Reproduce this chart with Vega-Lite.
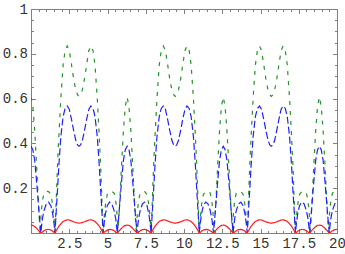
{
  "$schema": "https://vega.github.io/schema/vega-lite/v6.json",
  "width": 306,
  "height": 224,
  "autosize": {"type": "none"},
  "padding": {"left": 31, "top": 9, "right": 8, "bottom": 21},
  "background": "white",
  "config": {
    "view": {"stroke": "#808080", "strokeWidth": 1},
    "axis": {
      "labelFont": "Liberation Mono",
      "labelFontSize": 14,
      "labelColor": "#333333",
      "domainColor": "#808080",
      "tickColor": "#808080",
      "grid": false,
      "title": null,
      "labelOverlap": false,
      "labelBound": false,
      "labelFlush": false
    }
  },
  "data": {
    "values": [
      {"x":0,"g":0.607,"b":0.387,"r":0.035},
      {"x":0.12,"g":0.565,"b":0.372,"r":0.034},
      {"x":0.24,"g":0.46,"b":0.325,"r":0.029},
      {"x":0.36,"g":0.31,"b":0.235,"r":0.021},
      {"x":0.46,"g":0.17,"b":0.15,"r":0.014},
      {"x":0.54,"g":0.07,"b":0.08,"r":0.008},
      {"x":0.6,"g":0,"b":0.035,"r":0.004},
      {"x":0.64,"g":0.06,"b":0,"r":0.002},
      {"x":0.68,"g":0.1,"b":0.025,"r":0},
      {"x":0.75,"g":0.145,"b":0.065,"r":0.005},
      {"x":0.85,"g":0.178,"b":0.1,"r":0.01},
      {"x":1.0,"g":0.186,"b":0.13,"r":0.015},
      {"x":1.15,"g":0.185,"b":0.138,"r":0.016},
      {"x":1.3,"g":0.172,"b":0.122,"r":0.013},
      {"x":1.42,"g":0.125,"b":0.085,"r":0.008},
      {"x":1.5,"g":0.07,"b":0.045,"r":0.003},
      {"x":1.57,"g":0,"b":0,"r":0},
      {"x":1.65,"g":0.15,"b":0.1,"r":0.01},
      {"x":1.73,"g":0.3,"b":0.19,"r":0.02},
      {"x":1.82,"g":0.43,"b":0.3,"r":0.03},
      {"x":1.95,"g":0.6,"b":0.43,"r":0.041},
      {"x":2.1,"g":0.75,"b":0.52,"r":0.051},
      {"x":2.23,"g":0.815,"b":0.556,"r":0.056},
      {"x":2.37,"g":0.835,"b":0.567,"r":0.059},
      {"x":2.5,"g":0.815,"b":0.553,"r":0.058},
      {"x":2.64,"g":0.755,"b":0.51,"r":0.054},
      {"x":2.78,"g":0.69,"b":0.46,"r":0.05},
      {"x":2.92,"g":0.64,"b":0.415,"r":0.047},
      {"x":3.04,"g":0.617,"b":0.393,"r":0.045},
      {"x":3.142,"g":0.61,"b":0.387,"r":0.044},
      {"x":3.243,"g":0.617,"b":0.393,"r":0.045},
      {"x":3.363,"g":0.64,"b":0.415,"r":0.047},
      {"x":3.503,"g":0.69,"b":0.46,"r":0.05},
      {"x":3.643,"g":0.755,"b":0.51,"r":0.054},
      {"x":3.783,"g":0.815,"b":0.553,"r":0.058},
      {"x":3.913,"g":0.835,"b":0.567,"r":0.059},
      {"x":4.053,"g":0.815,"b":0.556,"r":0.056},
      {"x":4.183,"g":0.75,"b":0.52,"r":0.051},
      {"x":4.333,"g":0.6,"b":0.43,"r":0.041},
      {"x":4.463,"g":0.43,"b":0.3,"r":0.03},
      {"x":4.553,"g":0.3,"b":0.19,"r":0.02},
      {"x":4.633,"g":0.15,"b":0.1,"r":0.01},
      {"x":4.713,"g":0,"b":0,"r":0},
      {"x":4.783,"g":0.07,"b":0.045,"r":0.003},
      {"x":4.863,"g":0.125,"b":0.085,"r":0.008},
      {"x":4.983,"g":0.172,"b":0.122,"r":0.013},
      {"x":5.133,"g":0.185,"b":0.138,"r":0.016},
      {"x":5.283,"g":0.186,"b":0.13,"r":0.015},
      {"x":5.433,"g":0.178,"b":0.1,"r":0.01},
      {"x":5.533,"g":0.145,"b":0.065,"r":0.005},
      {"x":5.603,"g":0.1,"b":0.025,"r":0},
      {"x":5.643,"g":0.06,"b":0,"r":0.002},
      {"x":5.683,"g":0,"b":0.035,"r":0.004},
      {"x":5.743,"g":0.07,"b":0.08,"r":0.008},
      {"x":5.823,"g":0.17,"b":0.15,"r":0.014},
      {"x":5.923,"g":0.31,"b":0.235,"r":0.021},
      {"x":6.043,"g":0.46,"b":0.325,"r":0.029},
      {"x":6.163,"g":0.565,"b":0.372,"r":0.034},
      {"x":6.283,"g":0.607,"b":0.387,"r":0.035},
      {"x":6.403,"g":0.565,"b":0.372,"r":0.034},
      {"x":6.523,"g":0.46,"b":0.325,"r":0.029},
      {"x":6.643,"g":0.31,"b":0.235,"r":0.021},
      {"x":6.743,"g":0.17,"b":0.15,"r":0.014},
      {"x":6.823,"g":0.07,"b":0.08,"r":0.008},
      {"x":6.883,"g":0,"b":0.035,"r":0.004},
      {"x":6.923,"g":0.06,"b":0,"r":0.002},
      {"x":6.963,"g":0.1,"b":0.025,"r":0},
      {"x":7.033,"g":0.145,"b":0.065,"r":0.005},
      {"x":7.133,"g":0.178,"b":0.1,"r":0.01},
      {"x":7.283,"g":0.186,"b":0.13,"r":0.015},
      {"x":7.433,"g":0.185,"b":0.138,"r":0.016},
      {"x":7.583,"g":0.172,"b":0.122,"r":0.013},
      {"x":7.703,"g":0.125,"b":0.085,"r":0.008},
      {"x":7.783,"g":0.07,"b":0.045,"r":0.003},
      {"x":7.853,"g":0,"b":0,"r":0},
      {"x":7.933,"g":0.15,"b":0.1,"r":0.01},
      {"x":8.013,"g":0.3,"b":0.19,"r":0.02},
      {"x":8.103,"g":0.43,"b":0.3,"r":0.03},
      {"x":8.233,"g":0.6,"b":0.43,"r":0.041},
      {"x":8.383,"g":0.75,"b":0.52,"r":0.051},
      {"x":8.513,"g":0.815,"b":0.556,"r":0.056},
      {"x":8.653,"g":0.835,"b":0.567,"r":0.059},
      {"x":8.783,"g":0.815,"b":0.553,"r":0.058},
      {"x":8.923,"g":0.755,"b":0.51,"r":0.054},
      {"x":9.063,"g":0.69,"b":0.46,"r":0.05},
      {"x":9.203,"g":0.64,"b":0.415,"r":0.047},
      {"x":9.323,"g":0.617,"b":0.393,"r":0.045},
      {"x":9.425,"g":0.61,"b":0.387,"r":0.044},
      {"x":9.526,"g":0.617,"b":0.393,"r":0.045},
      {"x":9.646,"g":0.64,"b":0.415,"r":0.047},
      {"x":9.786,"g":0.69,"b":0.46,"r":0.05},
      {"x":9.926,"g":0.755,"b":0.51,"r":0.054},
      {"x":10.066,"g":0.815,"b":0.553,"r":0.058},
      {"x":10.196,"g":0.835,"b":0.567,"r":0.059},
      {"x":10.336,"g":0.815,"b":0.556,"r":0.056},
      {"x":10.466,"g":0.75,"b":0.52,"r":0.051},
      {"x":10.616,"g":0.6,"b":0.43,"r":0.041},
      {"x":10.746,"g":0.43,"b":0.3,"r":0.03},
      {"x":10.836,"g":0.3,"b":0.19,"r":0.02},
      {"x":10.916,"g":0.15,"b":0.1,"r":0.01},
      {"x":10.996,"g":0,"b":0,"r":0},
      {"x":11.066,"g":0.07,"b":0.045,"r":0.003},
      {"x":11.146,"g":0.125,"b":0.085,"r":0.008},
      {"x":11.266,"g":0.172,"b":0.122,"r":0.013},
      {"x":11.416,"g":0.185,"b":0.138,"r":0.016},
      {"x":11.566,"g":0.186,"b":0.13,"r":0.015},
      {"x":11.716,"g":0.178,"b":0.1,"r":0.01},
      {"x":11.816,"g":0.145,"b":0.065,"r":0.005},
      {"x":11.886,"g":0.1,"b":0.025,"r":0},
      {"x":11.926,"g":0.06,"b":0,"r":0.002},
      {"x":11.966,"g":0,"b":0.035,"r":0.004},
      {"x":12.026,"g":0.07,"b":0.08,"r":0.008},
      {"x":12.106,"g":0.17,"b":0.15,"r":0.014},
      {"x":12.206,"g":0.31,"b":0.235,"r":0.021},
      {"x":12.326,"g":0.46,"b":0.325,"r":0.029},
      {"x":12.446,"g":0.565,"b":0.372,"r":0.034},
      {"x":12.566,"g":0.607,"b":0.387,"r":0.035},
      {"x":12.686,"g":0.565,"b":0.372,"r":0.034},
      {"x":12.806,"g":0.46,"b":0.325,"r":0.029},
      {"x":12.926,"g":0.31,"b":0.235,"r":0.021},
      {"x":13.026,"g":0.17,"b":0.15,"r":0.014},
      {"x":13.106,"g":0.07,"b":0.08,"r":0.008},
      {"x":13.166,"g":0,"b":0.035,"r":0.004},
      {"x":13.206,"g":0.06,"b":0,"r":0.002},
      {"x":13.246,"g":0.1,"b":0.025,"r":0},
      {"x":13.316,"g":0.145,"b":0.065,"r":0.005},
      {"x":13.416,"g":0.178,"b":0.1,"r":0.01},
      {"x":13.566,"g":0.186,"b":0.13,"r":0.015},
      {"x":13.716,"g":0.185,"b":0.138,"r":0.016},
      {"x":13.866,"g":0.172,"b":0.122,"r":0.013},
      {"x":13.986,"g":0.125,"b":0.085,"r":0.008},
      {"x":14.066,"g":0.07,"b":0.045,"r":0.003},
      {"x":14.136,"g":0,"b":0,"r":0},
      {"x":14.216,"g":0.15,"b":0.1,"r":0.01},
      {"x":14.296,"g":0.3,"b":0.19,"r":0.02},
      {"x":14.386,"g":0.43,"b":0.3,"r":0.03},
      {"x":14.516,"g":0.6,"b":0.43,"r":0.041},
      {"x":14.666,"g":0.75,"b":0.52,"r":0.051},
      {"x":14.796,"g":0.815,"b":0.556,"r":0.056},
      {"x":14.936,"g":0.835,"b":0.567,"r":0.059},
      {"x":15.066,"g":0.815,"b":0.553,"r":0.058},
      {"x":15.206,"g":0.755,"b":0.51,"r":0.054},
      {"x":15.346,"g":0.69,"b":0.46,"r":0.05},
      {"x":15.486,"g":0.64,"b":0.415,"r":0.047},
      {"x":15.606,"g":0.617,"b":0.393,"r":0.045},
      {"x":15.708,"g":0.61,"b":0.387,"r":0.044},
      {"x":15.81,"g":0.617,"b":0.393,"r":0.045},
      {"x":15.93,"g":0.64,"b":0.415,"r":0.047},
      {"x":16.07,"g":0.69,"b":0.46,"r":0.05},
      {"x":16.21,"g":0.755,"b":0.51,"r":0.054},
      {"x":16.35,"g":0.815,"b":0.553,"r":0.058},
      {"x":16.48,"g":0.835,"b":0.567,"r":0.059},
      {"x":16.62,"g":0.815,"b":0.556,"r":0.056},
      {"x":16.75,"g":0.75,"b":0.52,"r":0.051},
      {"x":16.9,"g":0.6,"b":0.43,"r":0.041},
      {"x":17.03,"g":0.43,"b":0.3,"r":0.03},
      {"x":17.12,"g":0.3,"b":0.19,"r":0.02},
      {"x":17.2,"g":0.15,"b":0.1,"r":0.01},
      {"x":17.28,"g":0,"b":0,"r":0},
      {"x":17.35,"g":0.07,"b":0.045,"r":0.003},
      {"x":17.43,"g":0.125,"b":0.085,"r":0.008},
      {"x":17.55,"g":0.172,"b":0.122,"r":0.013},
      {"x":17.7,"g":0.185,"b":0.138,"r":0.016},
      {"x":17.85,"g":0.186,"b":0.13,"r":0.015},
      {"x":18.0,"g":0.178,"b":0.1,"r":0.01},
      {"x":18.1,"g":0.145,"b":0.065,"r":0.005},
      {"x":18.17,"g":0.1,"b":0.025,"r":0},
      {"x":18.21,"g":0.06,"b":0,"r":0.002},
      {"x":18.25,"g":0,"b":0.035,"r":0.004},
      {"x":18.31,"g":0.07,"b":0.08,"r":0.008},
      {"x":18.39,"g":0.17,"b":0.15,"r":0.014},
      {"x":18.49,"g":0.31,"b":0.235,"r":0.021},
      {"x":18.61,"g":0.46,"b":0.325,"r":0.029},
      {"x":18.73,"g":0.565,"b":0.372,"r":0.034},
      {"x":18.85,"g":0.607,"b":0.387,"r":0.035},
      {"x":18.97,"g":0.565,"b":0.372,"r":0.034},
      {"x":19.09,"g":0.46,"b":0.325,"r":0.029},
      {"x":19.21,"g":0.31,"b":0.235,"r":0.021},
      {"x":19.31,"g":0.17,"b":0.15,"r":0.014},
      {"x":19.39,"g":0.07,"b":0.08,"r":0.008},
      {"x":19.45,"g":0,"b":0.035,"r":0.004},
      {"x":19.49,"g":0.06,"b":0,"r":0.002},
      {"x":19.53,"g":0.1,"b":0.025,"r":0},
      {"x":19.6,"g":0.145,"b":0.065,"r":0.005},
      {"x":19.7,"g":0.178,"b":0.1,"r":0.01},
      {"x":19.85,"g":0.186,"b":0.13,"r":0.015},
      {"x":20.0,"g":0.185,"b":0.138,"r":0.016}
    ]
  },
  "transform": [{"fold": ["g", "b", "r"], "as": ["series", "y"]}],
  "layer": [
    {
      "mark": {"type": "line", "strokeWidth": 1.2, "clip": true},
      "encoding": {
        "x": {
          "field": "x", "type": "quantitative",
          "scale": {"domain": [0, 20], "nice": false, "zero": false},
          "axis": {
            "orient": "bottom",
            "values": [0,0.5,1,1.5,2,2.5,3,3.5,4,4.5,5,5.5,6,6.5,7,7.5,8,8.5,9,9.5,10,10.5,11,11.5,12,12.5,13,13.5,14,14.5,15,15.5,16,16.5,17,17.5,18,18.5,19,19.5,20],
            "labelExpr": "datum.value % 2.5 === 0 && datum.value > 0 ? format(datum.value, '.1~f') : ''",
            "tickSize": {"condition": {"test": "datum.value % 2.5 === 0", "value": -4.5}, "value": -2.5},
            "labelPadding": 8
          }
        },
        "y": {
          "field": "y", "type": "quantitative",
          "scale": {"domain": [0, 1], "nice": false},
          "axis": {
            "orient": "left",
            "values": [0,0.05,0.1,0.15,0.2,0.25,0.3,0.35,0.4,0.45,0.5,0.55,0.6,0.65,0.7,0.75,0.8,0.85,0.9,0.95,1],
            "labelExpr": "abs(datum.value*5 - round(datum.value*5)) < 0.001 && datum.value > 0 ? format(datum.value, '.1~f') : ''",
            "tickSize": {"condition": {"test": "abs(datum.value*5 - round(datum.value*5)) < 0.001", "value": -4.5}, "value": -2.5},
            "labelPadding": 8
          }
        },
        "color": {
          "field": "series", "type": "nominal",
          "scale": {"domain": ["g", "b", "r"], "range": ["#239323", "#1f1fff", "#ff1a1a"]},
          "legend": null
        },
        "strokeDash": {
          "field": "series", "type": "nominal",
          "scale": {"domain": ["g", "b", "r"], "range": [[4, 6], [7, 3], [1, 0]]},
          "legend": null
        }
      }
    },
    {
      "mark": {"type": "line", "opacity": 0},
      "encoding": {
        "x": {
          "field": "x", "type": "quantitative",
          "axis": {
            "orient": "top",
            "values": [0,0.5,1,1.5,2,2.5,3,3.5,4,4.5,5,5.5,6,6.5,7,7.5,8,8.5,9,9.5,10,10.5,11,11.5,12,12.5,13,13.5,14,14.5,15,15.5,16,16.5,17,17.5,18,18.5,19,19.5,20],
            "labels": false,
            "tickSize": {"condition": {"test": "datum.value % 2.5 === 0", "value": -4.5}, "value": -2.5}
          }
        },
        "y": {
          "field": "y", "type": "quantitative",
          "axis": {
            "orient": "right",
            "values": [0,0.05,0.1,0.15,0.2,0.25,0.3,0.35,0.4,0.45,0.5,0.55,0.6,0.65,0.7,0.75,0.8,0.85,0.9,0.95,1],
            "labels": false,
            "tickSize": {"condition": {"test": "abs(datum.value*5 - round(datum.value*5)) < 0.001", "value": -4.5}, "value": -2.5}
          }
        },
        "detail": {"field": "series", "type": "nominal"}
      }
    }
  ],
  "resolve": {"axis": {"x": "independent", "y": "independent"}}
}
